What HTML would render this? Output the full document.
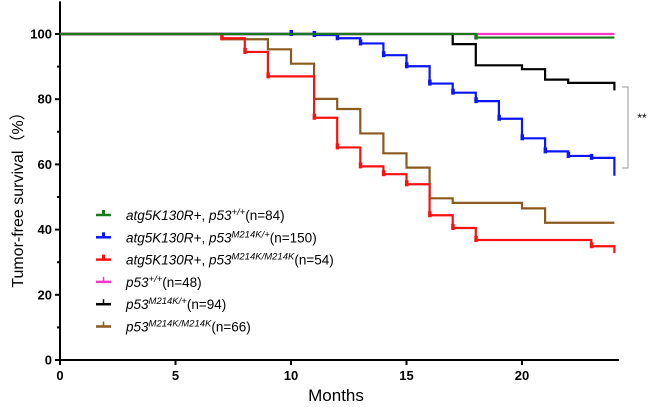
<!DOCTYPE html>
<html><head><meta charset="utf-8"><style>
body{margin:0;background:#fff;}
svg{display:block;font-family:"Liberation Sans",Arial,sans-serif;}
</style></head><body>
<svg id="chart" width="650" height="407" viewBox="0 0 650 407" xmlns="http://www.w3.org/2000/svg">
<g id="axes"></g><g id="series"></g><g id="legend"></g>
<text transform="translate(23,196) rotate(-90)" text-anchor="middle" font-size="16">Tumor-free survival（%）</text>
<text x="336" y="401" text-anchor="middle" font-size="17">Months</text>
<path d="M622,87 H628 V168 H622" fill="none" stroke="#999" stroke-width="1"/>
<text x="642" y="122" font-size="12" text-anchor="middle">**</text>
</svg>
<script>
const xTicks=[0,5,10,15,20];
const yTicks=[0,20,40,60,80,100];
const seriesNames=["green","blue","red","pink","black","brown"];
const colors=["#1a7a1a","#0a14ff","#ff1010","#ff33cc","#000000","#8b5a1e"];
// step data: [time, survival%] (value after drop at time)
const greenSteps=[[0,100],[18,98.9],[24,98.9]];
const blueSteps=[[0,100],[11,99.7],[12,98.7],[13,97.1],[14,93.5],[15,90.1],[16,84.8],[17,82],[18,79.4],[19,74],[20,68],[21,64],[22,62.6],[23,62],[24,56.5]];
const redSteps=[[0,100],[7,98.7],[8,94.5],[9,87],[11,74.3],[12,65.2],[13,59.4],[14,57],[15,53.9],[16,44.4],[17,40.5],[18,36.8],[23,34.9],[24,32.8]];
const pinkSteps=[[0,100],[24,100]];
const blackSteps=[[0,100],[17,96.9],[18,90.4],[20,89.2],[21,86],[22,85],[24,82.7]];
const brownSteps=[[0,100],[7,98.4],[9,95.3],[10,90.9],[11,80.1],[12,77],[13,69.5],[14,63.4],[15,59],[16,49.6],[17,48.2],[20,46.5],[21,42.1],[24,42.1]];
const greenCens=[18];
const blueCens=[10,11,12,13,14,15,16,17,18,19,20,21,22,23];
const redCens=[7,8,9,11,12,13,14,15,16,17,18,23];
const pinkCens=[];const blackCens=[];const brownCens=[];
const legendLabels=[["atg5K130R+, p53","+/+","(n=84)"],["atg5K130R+, p53","M214K/+","(n=150)"],["atg5K130R+, p53","M214K/M214K","(n=54)"],["p53","+/+","(n=48)"],["p53","M214K/+","(n=94)"],["p53","M214K/M214K","(n=66)"]];
const NS="http://www.w3.org/2000/svg";
const X=t=>60+t*23.1;
const Y=v=>360-v*3.26;
function mk(tag,attrs,parent){const e=document.createElementNS(NS,tag);for(const k in attrs)e.setAttribute(k,attrs[k]);parent.appendChild(e);return e;}
const axes=document.getElementById('axes');
let a=mk('path',{d:`M${X(0)},${Y(110)} V${Y(0)} H${X(24.2)}`,fill:'none',stroke:'#000','stroke-width':2},axes);


for(let v=0;v<=100;v+=10){const major=v%20===0;
 const t=mk('line',{x1:X(0)-(major?5:3),x2:X(0),y1:Y(v),y2:Y(v),stroke:'#000','stroke-width':2},axes);
 
 }
yTicks.forEach(v=>{const t=mk('text',{x:52,y:Y(v)+4.5,'text-anchor':'end','font-size':13,'font-weight':'bold'},axes);t.textContent=v;
 
 });
xTicks.forEach(v=>{const l=mk('line',{x1:X(v),x2:X(v),y1:Y(0),y2:Y(0)+5,stroke:'#000','stroke-width':2},axes);
 
 
 const t=mk('text',{x:X(v),y:Y(0)+20,'text-anchor':'middle','font-size':13,'font-weight':'bold'},axes);t.textContent=v;
 
 });
const allSteps=[greenSteps,blueSteps,redSteps,pinkSteps,blackSteps,brownSteps];
const allCens=[greenCens,blueCens,redCens,pinkCens,blackCens,brownCens];
const sg=document.getElementById('series');
const order=[3,5,4,1,2,0];
order.forEach(i=>{const s=allSteps[i];let d=`M${X(s[0][0])},${Y(s[0][1])}`;
 for(let k=1;k<s.length;k++){d+=` H${X(s[k][0])} V${Y(s[k][1])}`;}
 let p=mk('path',{d:d,fill:'none',stroke:colors[i],'stroke-width':2.2},sg);
 
 
 allCens[i].forEach(t=>{let v=s[0][1];s.forEach(q=>{if(q[0]<=t)v=q[1];});
  const c=mk('rect',{x:X(t)-1.5,y:Y(v)-4,width:3.5,height:6,fill:colors[i]},sg);
  
  });});
const lg=document.getElementById('legend');
legendLabels.forEach((L,i)=>{const y=215+i*22.3;
 const g=mk('g',{},lg);
 
 
 mk('line',{x1:96,x2:111,y1:y,y2:y,stroke:colors[i],'stroke-width':2.5},g);
 mk('line',{x1:103.5,x2:103.5,y1:y-5,y2:y,stroke:colors[i],'stroke-width':i<3?3:1.5},g);
 const t=mk('text',{x:126,y:y+5,'font-size':13.5},g);
 const parts=L[0].split(', ');
 let html='';
 if(parts.length>1){html=`<tspan font-style="italic">${parts[0]}</tspan>, <tspan font-style="italic">${parts[1]}</tspan>`;}
 else html=`<tspan font-style="italic">${parts[0]}</tspan>`;
 html+=`<tspan font-style="italic" font-size="9.5" dy="-5">${L[1]}</tspan><tspan dy="5">${L[2]}</tspan>`;
 t.innerHTML=html;});
</script>
</body></html>
